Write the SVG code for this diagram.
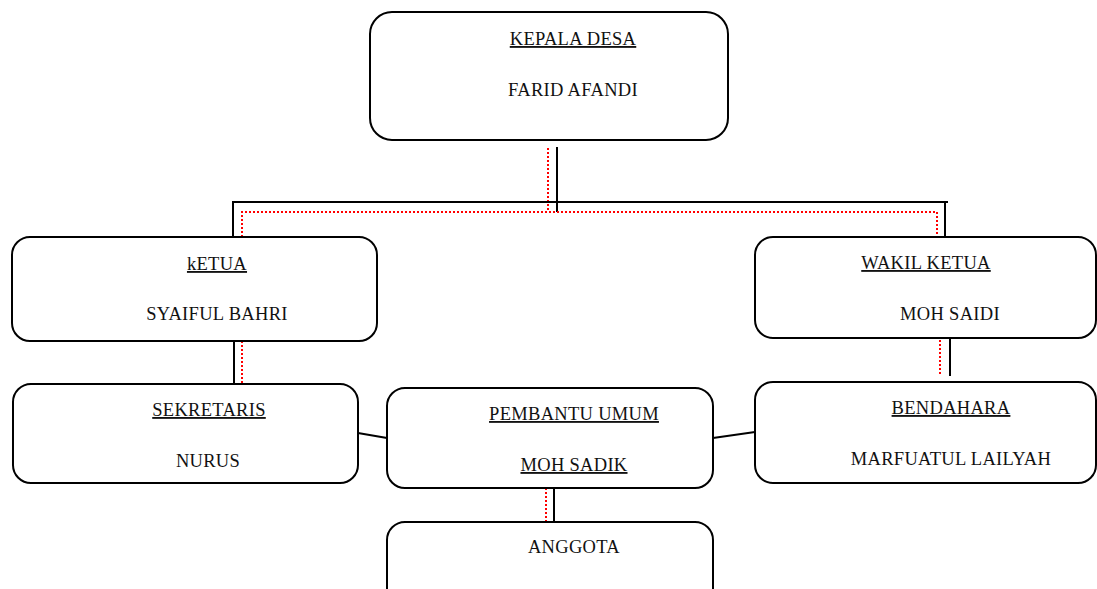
<svg xmlns="http://www.w3.org/2000/svg" width="1097" height="589" viewBox="0 0 1097 589">
<style>
.box{fill:#fff;stroke:#000;stroke-width:2}
.t{font-family:"Liberation Serif","Times New Roman",serif;font-size:18.5px;letter-spacing:0.3px;fill:#111;text-anchor:middle}
.u{text-decoration:underline}
.ln{stroke:#000;stroke-width:2;fill:none}
.dot{stroke:#f00;stroke-width:2;stroke-dasharray:2 2;fill:none}
</style>
<rect width="1097" height="589" fill="#fff"/>
<g id="connectors">
<line class="ln" x1="557" y1="147" x2="557" y2="212"/>
<line class="dot" x1="548" y1="148" x2="548" y2="212"/>
<line class="ln" x1="232" y1="202" x2="948" y2="202"/>
<polyline class="dot" points="242,237 242,212 937,212 937,234"/>
<line class="ln" x1="233" y1="202" x2="233" y2="237"/>
<line class="ln" x1="945" y1="202" x2="945" y2="237"/>
<line class="ln" x1="234" y1="341" x2="234" y2="384"/>
<line class="dot" x1="242" y1="341" x2="242" y2="384"/>
<line class="ln" x1="950" y1="338" x2="950" y2="376"/>
<line class="dot" x1="940" y1="340" x2="940" y2="375"/>
<line class="ln" x1="358" y1="433" x2="387" y2="438"/>
<line class="ln" x1="713" y1="438" x2="755" y2="432"/>
<line class="ln" x1="554" y1="488" x2="554" y2="522"/>
<line class="dot" x1="546" y1="488" x2="546" y2="522"/>
</g>
<g id="kepala">
<rect class="box" x="370" y="12" width="358" height="128" rx="22"/>
<text class="t u" x="573" y="45">KEPALA DESA</text>
<text class="t" x="573" y="96">FARID AFANDI</text>
</g>
<g id="ketua">
<rect class="box" x="12" y="237" width="365" height="104" rx="18"/>
<text class="t u" x="217" y="270">kETUA</text>
<text class="t" x="217" y="320">SYAIFUL BAHRI</text>
</g>
<g id="wakil">
<rect class="box" x="755" y="237" width="341" height="101" rx="18"/>
<text class="t u" x="926" y="269">WAKIL KETUA</text>
<text class="t" x="950" y="320">MOH SAIDI</text>
</g>
<g id="sekretaris">
<rect class="box" x="13" y="384" width="345" height="99" rx="18"/>
<text class="t u" x="209" y="416">SEKRETARIS</text>
<text class="t" x="208" y="467">NURUS</text>
</g>
<g id="pembantu">
<rect class="box" x="387" y="388" width="326" height="100" rx="18"/>
<text class="t u" x="574" y="420">PEMBANTU UMUM</text>
<text class="t u" x="574" y="471">MOH SADIK</text>
</g>
<g id="bendahara">
<rect class="box" x="755" y="382" width="341" height="101" rx="18"/>
<text class="t u" x="951" y="414">BENDAHARA</text>
<text class="t" x="951" y="465">MARFUATUL LAILYAH</text>
</g>
<g id="anggota">
<rect class="box" x="387" y="522" width="326" height="100" rx="18"/>
<text class="t" x="574" y="553">ANGGOTA</text>
</g>
</svg>
